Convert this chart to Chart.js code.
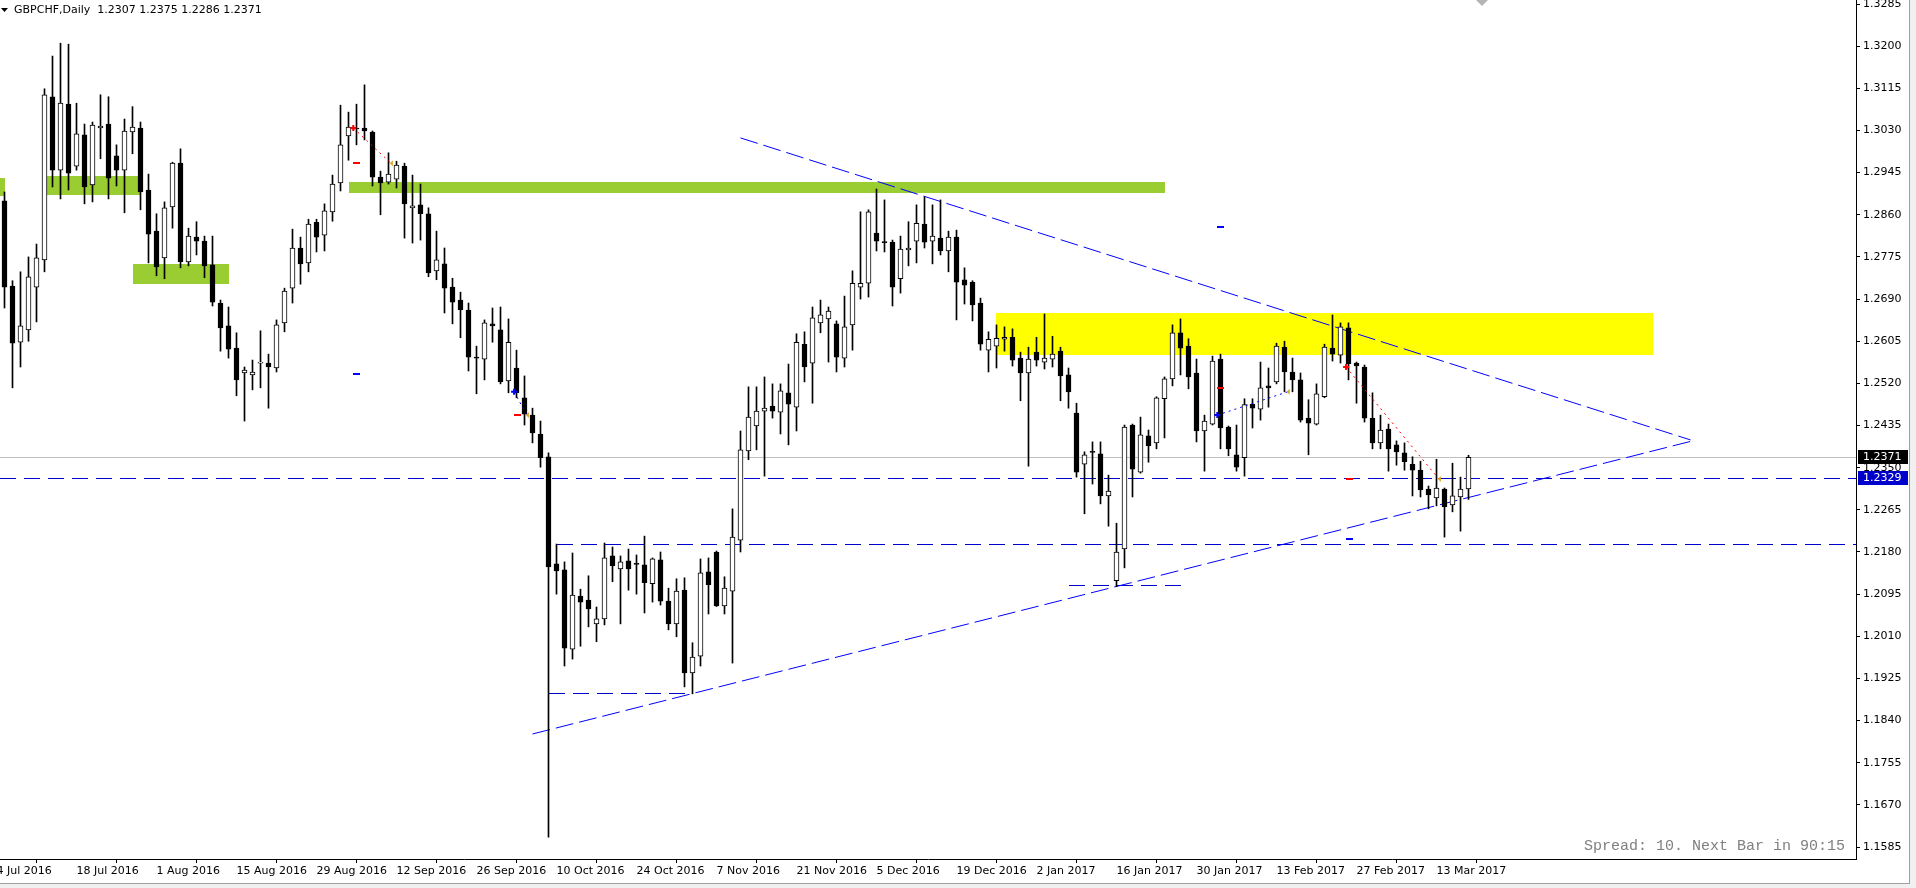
<!DOCTYPE html>
<html>
<head>
<meta charset="utf-8">
<title>GBPCHF,Daily</title>
<script src="https://cdn.jsdelivr.net/npm/chart.js@4.4.0/dist/chart.umd.min.js"></script>
<style>
  html, body { margin: 0; padding: 0; background: #fff; overflow: hidden; }
  canvas { display: block; }
</style>
</head>
<body>
<canvas id="chart" width="1916" height="888"></canvas>
<script>
// ---- chart data (daily bars, first bar = 4 Jul 2016) ----
const symbol = 'GBPCHF';
const period = 'Daily';
const dateLabels = ['4 Jul 2016', '18 Jul 2016', '1 Aug 2016', '15 Aug 2016', '29 Aug 2016', '12 Sep 2016',
  '26 Sep 2016', '10 Oct 2016', '24 Oct 2016', '7 Nov 2016', '21 Nov 2016', '5 Dec 2016', '19 Dec 2016',
  '2 Jan 2017', '16 Jan 2017', '30 Jan 2017', '13 Feb 2017', '27 Feb 2017', '13 Mar 2017'];
const dateLabelStep = 10; // a label every two weeks (10 bars)

const openPrices = [
  1.2910, 1.2888, 1.2716, 1.2603, 1.2628, 1.2714, 1.2769, 1.3098, 1.2950, 1.3083,
  1.2958, 1.3021, 1.2920, 1.3035, 1.3043, 1.2979, 1.2950, 1.3027, 1.3035, 1.2910,
  1.2827, 1.2773, 1.2876, 1.2964, 1.2765, 1.2815, 1.2807, 1.2759, 1.2682, 1.2636,
  1.2591, 1.2541, 1.2537, 1.2561, 1.2561, 1.2551, 1.2642, 1.2712, 1.2793, 1.2763,
  1.2845, 1.2819, 1.2866, 1.2924, 1.3019, 1.3035, 1.3035, 1.3027, 1.2936, 1.2926,
  1.2932, 1.2958, 1.2874, 1.2880, 1.2862, 1.2747, 1.2761, 1.2714, 1.2688, 1.2668,
  1.2573, 1.2569, 1.2640, 1.2628, 1.2525, 1.2551, 1.2491, 1.2456, 1.2418, 1.2372,
  1.2156, 1.2144, 1.1984, 1.2091, 1.2083, 1.2035, 1.2045, 1.2172, 1.2146, 1.2162,
  1.2156, 1.2154, 1.2116, 1.2164, 1.2081, 1.2035, 1.2103, 1.1936, 1.1970, 1.2140,
  1.2180, 1.2071, 1.2101, 1.2204, 1.2384, 1.2434, 1.2464, 1.2474, 1.2462, 1.2501,
  1.2472, 1.2599, 1.2561, 1.2642, 1.2650, 1.2640, 1.2571, 1.2638, 1.2714, 1.2722,
  1.2823, 1.2805, 1.2805, 1.2731, 1.2789, 1.2807, 1.2841, 1.2807, 1.2813, 1.2787,
  1.2815, 1.2729, 1.2724, 1.2682, 1.2587, 1.2595, 1.2609, 1.2613, 1.2571, 1.2541,
  1.2583, 1.2563, 1.2569, 1.2585, 1.2537, 1.2460, 1.2357, 1.2382, 1.2378, 1.2293,
  1.2122, 1.2186, 1.2436, 1.2341, 1.2414, 1.2400, 1.2489, 1.2529, 1.2622, 1.2595,
  1.2541, 1.2424, 1.2438, 1.2569, 1.2432, 1.2376, 1.2370, 1.2478, 1.2468, 1.2515,
  1.2523, 1.2593, 1.2543, 1.2527, 1.2450, 1.2438, 1.2493, 1.2591, 1.2577, 1.2632,
  1.2561, 1.2553, 1.2450, 1.2400, 1.2428, 1.2396, 1.2380, 1.2357, 1.2345, 1.2307,
  1.2289, 1.2307, 1.2275, 1.2291, 1.2307
];
const highPrices = [
  1.2920, 1.2906, 1.2727, 1.2745, 1.2775, 1.2801, 1.3114, 1.3180, 1.3206, 1.3204,
  1.3085, 1.3043, 1.3047, 1.3102, 1.3098, 1.3001, 1.3053, 1.3078, 1.3047, 1.2942,
  1.2862, 1.2886, 1.2966, 1.2993, 1.2833, 1.2846, 1.2817, 1.2817, 1.2688, 1.2674,
  1.2622, 1.2553, 1.2567, 1.2626, 1.2579, 1.2648, 1.2712, 1.2831, 1.2815, 1.2851,
  1.2851, 1.2882, 1.2940, 1.3081, 1.3067, 1.3083, 1.3122, 1.3029, 1.2948, 1.2985,
  1.2968, 1.2964, 1.2940, 1.2922, 1.2874, 1.2827, 1.2793, 1.2732, 1.2704, 1.2682,
  1.2595, 1.2648, 1.2672, 1.2674, 1.2650, 1.2587, 1.2535, 1.2470, 1.2444, 1.2380,
  1.2196, 1.2160, 1.2178, 1.2105, 1.2132, 1.2069, 1.2198, 1.2190, 1.2172, 1.2186,
  1.2174, 1.2212, 1.2168, 1.2180, 1.2107, 1.2126, 1.2128, 1.1997, 1.2166, 1.2168,
  1.2182, 1.2130, 1.2267, 1.2424, 1.2513, 1.2513, 1.2533, 1.2519, 1.2519, 1.2559,
  1.2620, 1.2624, 1.2674, 1.2688, 1.2674, 1.2646, 1.2696, 1.2747, 1.2866, 1.2870,
  1.2912, 1.2890, 1.2809, 1.2817, 1.2846, 1.2880, 1.2896, 1.2880, 1.2890, 1.2827,
  1.2829, 1.2753, 1.2727, 1.2692, 1.2624, 1.2638, 1.2634, 1.2630, 1.2583, 1.2593,
  1.2613, 1.2660, 1.2615, 1.2593, 1.2551, 1.2480, 1.2382, 1.2402, 1.2402, 1.2335,
  1.2238, 1.2436, 1.2438, 1.2452, 1.2426, 1.2493, 1.2533, 1.2638, 1.2650, 1.2610,
  1.2569, 1.2456, 1.2575, 1.2579, 1.2434, 1.2436, 1.2489, 1.2489, 1.2563, 1.2551,
  1.2601, 1.2605, 1.2571, 1.2541, 1.2487, 1.2519, 1.2599, 1.2658, 1.2642, 1.2642,
  1.2563, 1.2557, 1.2501, 1.2456, 1.2438, 1.2404, 1.2400, 1.2372, 1.2363, 1.2313,
  1.2367, 1.2309, 1.2359, 1.2331, 1.2375
];
const lowPrices = [
  1.2870, 1.2672, 1.2511, 1.2553, 1.2605, 1.2644, 1.2745, 1.2916, 1.2892, 1.2910,
  1.2950, 1.2882, 1.2886, 1.2973, 1.2892, 1.2918, 1.2864, 1.2983, 1.2870, 1.2763,
  1.2737, 1.2731, 1.2833, 1.2753, 1.2757, 1.2779, 1.2733, 1.2676, 1.2585, 1.2571,
  1.2495, 1.2444, 1.2507, 1.2511, 1.2470, 1.2543, 1.2624, 1.2682, 1.2720, 1.2745,
  1.2785, 1.2787, 1.2847, 1.2908, 1.2970, 1.3001, 1.3011, 1.2918, 1.2860, 1.2922,
  1.2914, 1.2813, 1.2803, 1.2809, 1.2735, 1.2729, 1.2662, 1.2640, 1.2612, 1.2545,
  1.2499, 1.2527, 1.2603, 1.2519, 1.2501, 1.2491, 1.2436, 1.2400, 1.2351, 1.1605,
  1.2095, 1.1950, 1.1964, 1.1990, 1.2029, 1.1999, 1.2033, 1.2120, 1.2035, 1.2103,
  1.2095, 1.2057, 1.2079, 1.2073, 1.2023, 1.2009, 1.1908, 1.1894, 1.1950, 1.2055,
  1.2070, 1.2055, 1.1956, 1.2180, 1.2366, 1.2386, 1.2333, 1.2450, 1.2418, 1.2396,
  1.2424, 1.2523, 1.2480, 1.2622, 1.2563, 1.2543, 1.2553, 1.2587, 1.2690, 1.2694,
  1.2787, 1.2785, 1.2676, 1.2702, 1.2757, 1.2763, 1.2793, 1.2761, 1.2779, 1.2745,
  1.2648, 1.2680, 1.2646, 1.2587, 1.2543, 1.2551, 1.2585, 1.2555, 1.2485, 1.2353,
  1.2555, 1.2549, 1.2553, 1.2485, 1.2470, 1.2331, 1.2257, 1.2317, 1.2277, 1.2232,
  1.2110, 1.2148, 1.2291, 1.2339, 1.2361, 1.2388, 1.2410, 1.2515, 1.2537, 1.2509,
  1.2402, 1.2343, 1.2436, 1.2388, 1.2374, 1.2343, 1.2333, 1.2430, 1.2446, 1.2472,
  1.2519, 1.2503, 1.2503, 1.2442, 1.2376, 1.2436, 1.2491, 1.2565, 1.2561, 1.2527,
  1.2480, 1.2442, 1.2388, 1.2388, 1.2343, 1.2355, 1.2345, 1.2293, 1.2291, 1.2267,
  1.2273, 1.2210, 1.2261, 1.2222, 1.2286
];
const closePrices = [
  1.2890, 1.2714, 1.2601, 1.2636, 1.2735, 1.2773, 1.3102, 1.2950, 1.3085, 1.2944,
  1.3023, 1.2916, 1.3041, 1.3039, 1.2934, 1.2950, 1.3029, 1.3037, 1.2906, 1.2821,
  1.2755, 1.2874, 1.2964, 1.2765, 1.2817, 1.2807, 1.2757, 1.2684, 1.2632, 1.2589,
  1.2527, 1.2547, 1.2543, 1.2562, 1.2553, 1.2638, 1.2706, 1.2793, 1.2761, 1.2841,
  1.2815, 1.2868, 1.2922, 1.3001, 1.3037, 1.3033, 1.3029, 1.2936, 1.2924, 1.2942,
  1.2960, 1.2882, 1.2878, 1.2862, 1.2743, 1.2769, 1.2712, 1.2684, 1.2668, 1.2573,
  1.2571, 1.2642, 1.2636, 1.2523, 1.2603, 1.2501, 1.2458, 1.2420, 1.2370, 1.2150,
  1.2142, 1.1986, 1.2093, 1.2079, 1.2065, 1.2045, 1.2168, 1.2152, 1.2160, 1.2146,
  1.2155, 1.2118, 1.2166, 1.2081, 1.2035, 1.2101, 1.1936, 1.1968, 1.2138, 1.2114,
  1.2071, 1.2107, 1.2210, 1.2386, 1.2452, 1.2464, 1.2470, 1.2464, 1.2505, 1.2478,
  1.2603, 1.2553, 1.2652, 1.2658, 1.2666, 1.2573, 1.2634, 1.2722, 1.2722, 1.2866,
  1.2807, 1.2804, 1.2714, 1.2791, 1.2793, 1.2843, 1.2805, 1.2817, 1.2787, 1.2815,
  1.2724, 1.2718, 1.2678, 1.2599, 1.2609, 1.2611, 1.2613, 1.2567, 1.2541, 1.2569,
  1.2567, 1.2571, 1.2579, 1.2535, 1.2503, 1.2341, 1.2376, 1.2381, 1.2293, 1.2303,
  1.2180, 1.2432, 1.2347, 1.2416, 1.2394, 1.2491, 1.2529, 1.2622, 1.2591, 1.2533,
  1.2424, 1.2444, 1.2565, 1.2430, 1.2388, 1.2351, 1.2477, 1.2470, 1.2511, 1.2511,
  1.2595, 1.2543, 1.2527, 1.2446, 1.2440, 1.2499, 1.2593, 1.2579, 1.2634, 1.2559,
  1.2555, 1.2450, 1.2400, 1.2426, 1.2388, 1.2382, 1.2362, 1.2345, 1.2305, 1.2295,
  1.2309, 1.2271, 1.2293, 1.2307, 1.2371
];

// price scale
const priceMin = 1.15609;
const priceMax = 1.32931;
const priceTickStart = 1.1585;
const priceTickStep = 0.0085;
// bar scale (bar index), right side left empty by chart shift
const barMin = 0.4375;
const barMax = 232.4375;
const shiftBar = 185.7;

// drawn objects, in bar index / price
const zoneFrom = [-1, 6.35, 17, 44, 125];
const zoneTo = [1, 18, 29, 146, 207];
const zoneTop = [1.2935, 1.2938, 1.2761, 1.2926, 1.2662];
const zoneBottom = [1.2897, 1.2900, 1.2721, 1.2904, 1.2577];
const zoneColor = ['#9ACD32', '#9ACD32', '#9ACD32', '#9ACD32', '#FFFF00'];

const levelPrice = [1.2329, 1.2196, 1.1896, 1.2113];
const levelFrom = [barMin, 70, 69, 134];
const levelTo = [barMax, barMax, 87.1, 148.25];

const trendStartBar = [93, 67];
const trendStartPrice = [1.3015, 1.1813];
const trendEndBar = [211.75, 212];
const trendEndPrice = [1.2406, 1.2404];

const tradeOpenBar = [44.6, 64.7, 152.6, 168.7];
const tradeOpenPrice = [1.3035, 1.2503, 1.2456, 1.2553];
const tradeCloseBar = [49.3, 66.3, 161.4, 180.3];
const tradeClosePrice = [1.2964, 1.2456, 1.2503, 1.2327];
const tradeSide = ['sell', 'buy', 'buy', 'sell'];
const tradeStop = [1.2964, 1.2456, 1.2511, 1.2327];
const tradeTarget = [1.2539, null, 1.2835, 1.2206];

const spreadText = 'Spread: 10. Next Bar in 90:15';

// ---- build chart ----
const last = closePrices.length - 1;
const bodyColors = openPrices.map((o, i) => closePrices[i] > o ? '#ffffff' : '#000000');

const trendSets = trendStartBar.map((b, i) => ({
  type: 'line',
  data: [{ x: b, y: trendStartPrice[i] }, { x: trendEndBar[i], y: trendEndPrice[i] }],
  borderColor: '#0000FF',
  borderWidth: 1,
  borderDash: [18, 6],
  pointRadius: 0,
  fill: false,
  tension: 0,
  order: 3
}));

// horizontal lines, snapped to whole pixels so they stay 1px wide
function hLine(ctx, xs, ys, x1, x2, price, color, dash) {
  const y = Math.round(ys.getPixelForValue(price)) + 0.5;
  ctx.strokeStyle = color;
  ctx.lineWidth = 1;
  ctx.setLineDash(dash);
  ctx.lineDashOffset = 0;
  ctx.beginPath();
  ctx.moveTo(Math.round(xs.getPixelForValue(x1)), y);
  ctx.lineTo(Math.round(xs.getPixelForValue(x2)), y);
  ctx.stroke();
}

const overlays = {
  id: 'overlays',
  beforeDatasetsDraw(chart) {
    const { ctx, chartArea: a, scales: { x, y } } = chart;
    ctx.save();
    ctx.beginPath();
    ctx.rect(a.left, a.top, a.right - a.left, a.bottom - a.top);
    ctx.clip();
    // supply / demand zones
    zoneFrom.forEach((f, i) => {
      const x1 = Math.round(x.getPixelForValue(f)), x2 = Math.round(x.getPixelForValue(zoneTo[i]));
      const y1 = Math.round(y.getPixelForValue(zoneTop[i])), y2 = Math.round(y.getPixelForValue(zoneBottom[i]));
      ctx.fillStyle = zoneColor[i];
      ctx.fillRect(x1, y1, x2 - x1, y2 - y1);
    });
    // last price line
    hLine(ctx, x, y, barMin, barMax, closePrices[last], '#C0C0C0', []);
    // horizontal levels
    levelPrice.forEach((p, i) => hLine(ctx, x, y, levelFrom[i], levelTo[i], p, '#0000CD', [16, 8]));
    ctx.restore();
  },
  afterDatasetsDraw(chart) {
    const { ctx, chartArea: a, scales: { x, y } } = chart;
    ctx.save();
    ctx.beginPath();
    ctx.rect(a.left, a.top, a.right - a.left, a.bottom - a.top);
    ctx.clip();
    tradeOpenBar.forEach((b, i) => {
      const col = tradeSide[i] === 'sell' ? '#FF0000' : '#0000FF';
      const x1 = x.getPixelForValue(b), y1 = y.getPixelForValue(tradeOpenPrice[i]);
      const x2 = x.getPixelForValue(tradeCloseBar[i]), y2 = y.getPixelForValue(tradeClosePrice[i]);
      // dotted trade line
      ctx.strokeStyle = col;
      ctx.lineWidth = 1;
      ctx.setLineDash([2, 4]);
      ctx.beginPath();
      ctx.moveTo(x1, y1);
      ctx.lineTo(x2, y2);
      ctx.stroke();
      ctx.setLineDash([]);
      // open mark
      ctx.lineWidth = 2;
      ctx.beginPath();
      ctx.moveTo(x1 - 3, y1); ctx.lineTo(x1 + 3, y1);
      ctx.moveTo(x1, y1 - 3); ctx.lineTo(x1, y1 + 3);
      ctx.stroke();
      // close arrow
      ctx.fillStyle = '#DAA520';
      ctx.beginPath();
      ctx.moveTo(x2 - 1, y2);
      ctx.lineTo(x2 + 2, y2 - 3);
      ctx.lineTo(x2 + 2, y2 + 3);
      ctx.closePath();
      ctx.fill();
      // stop / target dashes
      const xs = Math.round(x1);
      ctx.fillStyle = '#FF0000';
      ctx.fillRect(xs, Math.round(y.getPixelForValue(tradeStop[i])) - 1, 7, 2);
      if (tradeTarget[i] !== null) {
        ctx.fillStyle = '#0000FF';
        ctx.fillRect(xs, Math.round(y.getPixelForValue(tradeTarget[i])) - 1, 7, 2);
      }
    });
    ctx.restore();
  },
  afterDraw(chart) {
    const { ctx, chartArea: a, scales: { x, y } } = chart;
    ctx.save();
    // header
    ctx.fillStyle = '#000';
    ctx.beginPath();
    ctx.moveTo(1, 8); ctx.lineTo(8, 8); ctx.lineTo(4.5, 12); ctx.closePath();
    ctx.fill();
    ctx.font = '11px "DejaVu Sans"';
    ctx.textBaseline = 'middle';
    ctx.textAlign = 'left';
    const f = v => v.toFixed(4);
    ctx.fillText(`${symbol},${period}  ${f(openPrices[last])} ${f(highPrices[last])} ${f(lowPrices[last])} ${f(closePrices[last])}`, 14, 10);
    // spread / timer
    ctx.font = '15px "Liberation Mono"';
    ctx.fillStyle = '#808080';
    ctx.textAlign = 'right';
    ctx.fillText(spreadText, a.right - 11, a.bottom - 13);
    // chart shift mark
    const sx = Math.round(x.getPixelForValue(shiftBar));
    ctx.fillStyle = '#B4B4B4';
    ctx.beginPath();
    ctx.moveTo(sx - 6, 0); ctx.lineTo(sx + 6, 0); ctx.lineTo(sx, 6); ctx.closePath();
    ctx.fill();
    // price labels on the axis
    ctx.font = '11px "DejaVu Sans"';
    ctx.textAlign = 'left';
    const box = (price, bg) => {
      const py = Math.round(y.getPixelForValue(price));
      ctx.fillStyle = bg;
      ctx.fillRect(a.right + 2, py - 7, 50, 14);
      ctx.fillStyle = '#fff';
      ctx.fillText(price.toFixed(4), a.right + 7, py + 0.5);
    };
    box(closePrices[last], '#000000');
    box(levelPrice[0], '#0000CD');
    // window frame
    ctx.fillStyle = '#F0F0F0';
    ctx.fillRect(1910, 0, 6, 888);
    ctx.fillRect(0, 883, 1916, 5);
    ctx.fillStyle = '#A0A0A0';
    ctx.fillRect(1909, 0, 1, 884);
    ctx.fillRect(0, 883, 1910, 1);
    ctx.restore();
  }
};

const ctx = document.getElementById('chart').getContext('2d');
Chart.defaults.font.family = '"DejaVu Sans"';
Chart.defaults.font.size = 11;
Chart.defaults.color = '#000';

new Chart(ctx, {
  type: 'bar',
  data: {
    datasets: [
      {
        label: 'body',
        data: openPrices.map((o, i) => ({ x: i, y: [o, closePrices[i]] })),
        backgroundColor: bodyColors,
        borderColor: '#000',
        borderWidth: 1,
        borderSkipped: false,
        barThickness: 5,
        minBarLength: 1,
        grouped: false,
        order: 0
      },
      {
        label: 'wick',
        data: lowPrices.map((l, i) => ({ x: i, y: [l, highPrices[i]] })),
        backgroundColor: '#000',
        borderWidth: 0,
        barThickness: 1,
        grouped: false,
        order: 1
      },
      ...trendSets
    ]
  },
  options: {
    responsive: false,
    animation: false,
    events: [],
    layout: { padding: 0 },
    plugins: { legend: { display: false }, tooltip: { enabled: false } },
    scales: {
      x: {
        type: 'linear',
        min: barMin,
        max: barMax,
        bounds: 'data',
        offset: false,
        grid: { display: true, drawOnChartArea: false, drawTicks: true, tickLength: 4, color: '#000' },
        border: { display: true, color: '#000', width: 1 },
        ticks: {
          autoSkip: false,
          maxRotation: 0,
          minRotation: 0,
          align: 'start',
          padding: 2,
          color: '#000',
          callback: (v, i) => dateLabels[i]
        },
        afterBuildTicks: s => { s.ticks = dateLabels.map((_, i) => ({ value: i * dateLabelStep })); },
        afterFit: s => { s.height = 29; s.paddingLeft = 0; s.paddingRight = 0; }
      },
      y: {
        type: 'linear',
        position: 'right',
        min: priceMin,
        max: priceMax,
        bounds: 'data',
        grid: { display: true, drawOnChartArea: false, drawTicks: true, tickLength: 4, color: '#000' },
        border: { display: true, color: '#000', width: 1 },
        ticks: { padding: 3, color: '#000', callback: v => v.toFixed(4) },
        afterBuildTicks: s => {
          const t = [];
          for (let v = priceTickStart; v <= priceMax + 1e-9; v += priceTickStep) t.push({ value: +v.toFixed(4) });
          s.ticks = t;
        },
        afterFit: s => { s.width = 60; s.paddingTop = 0; s.paddingBottom = 0; }
      }
    }
  },
  plugins: [overlays]
});
</script>
</body>
</html>
